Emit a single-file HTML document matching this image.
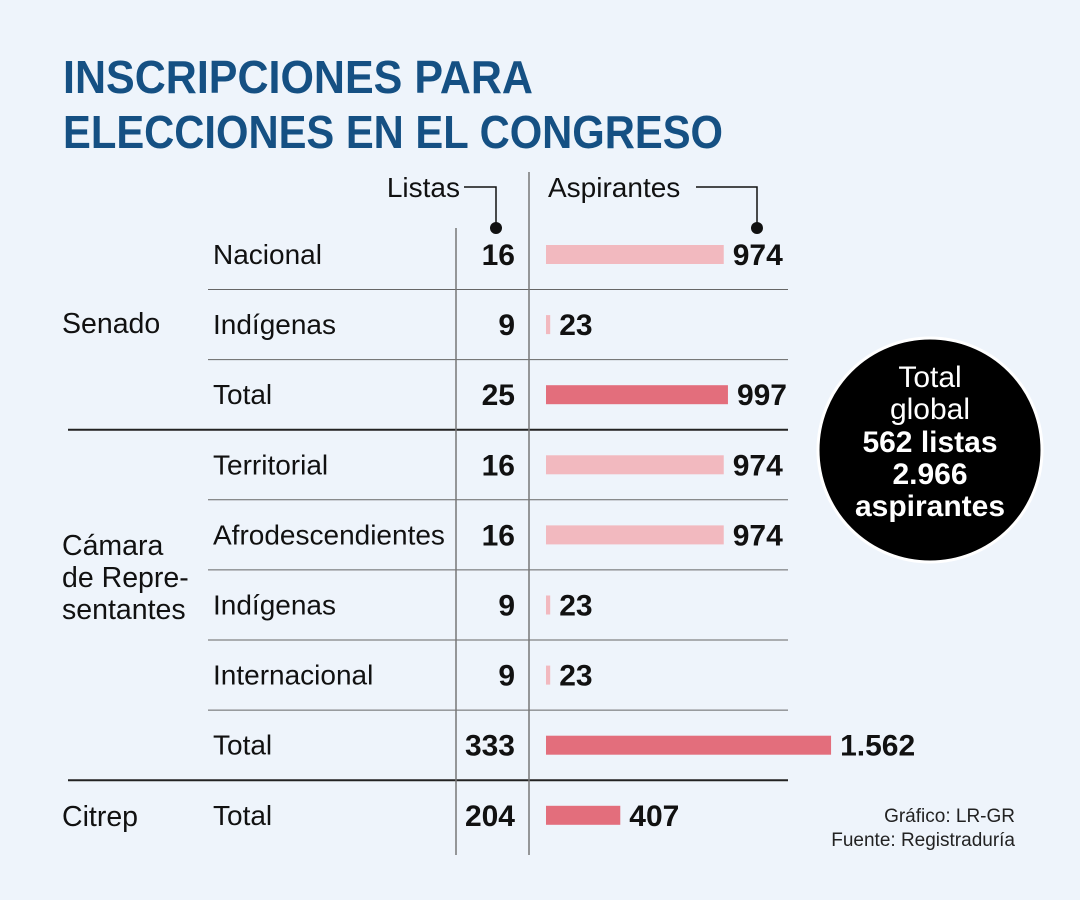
<!DOCTYPE html>
<html><head><meta charset="utf-8"><style>
body{margin:0;background:#eef4fb;}
svg{display:block;font-family:"Liberation Sans",sans-serif;}
</style></head><body>
<svg id="chart" width="1080" height="900" viewBox="0 0 1080 900">
<rect width="1080" height="900" fill="#eef4fb"/>
<g fill="#155083" font-weight="bold" font-size="46">
<text x="63" y="93" textLength="470" lengthAdjust="spacingAndGlyphs">INSCRIPCIONES PARA</text>
<text x="63" y="148" textLength="660" lengthAdjust="spacingAndGlyphs">ELECCIONES EN EL CONGRESO</text>
</g>
<g font-size="28" fill="#111">
<text x="460" y="197" text-anchor="end">Listas</text>
<text x="548" y="197">Aspirantes</text>
<polyline points="464,187 496,187 496,228" fill="none" stroke="#111" stroke-width="1.5"/>
<circle cx="496" cy="228" r="6" fill="#111"/>
<polyline points="696,187 757,187 757,228" fill="none" stroke="#111" stroke-width="1.5"/>
<circle cx="757" cy="228" r="6" fill="#111"/>
</g>
<g id="grid"></g>
<g id="rows"></g>
<g font-size="28.5" fill="#111">
<text x="62" y="333">Senado</text>
<text x="62" y="555">Cámara</text>
<text x="62" y="587">de Repre-</text>
<text x="62" y="619">sentantes</text>
<text x="62" y="826">Citrep</text>
</g>
<g>
<circle cx="930" cy="450" r="112" fill="#000" stroke="#fff" stroke-width="3"/>
<g fill="#fff" text-anchor="middle" font-size="30">
<text x="930" y="387">Total</text>
<text x="930" y="419">global</text>
<text x="930" y="452" font-weight="bold">562 listas</text>
<text x="930" y="484" font-weight="bold">2.966</text>
<text x="930" y="516" font-weight="bold">aspirantes</text>
</g>
</g>
<g font-size="19" fill="#222" text-anchor="end">
<text x="1015" y="822">Gráfico: LR-GR</text>
<text x="1015" y="846">Fuente: Registraduría</text>
</g>
</svg>
<script>
const categories=["Nacional","Indígenas","Total","Territorial","Afrodescendientes","Indígenas","Internacional","Total","Total"];
const listas=[16,9,25,16,16,9,9,333,204];
const aspirantes=[974,23,997,974,974,23,23,1562,407];
const aspLabels=["974","23","997","974","974","23","23","1.562","407"];
const isTotal=[false,false,true,false,false,false,false,true,true];
const NS="http://www.w3.org/2000/svg";
const rowsG=document.getElementById('rows');
const gridG=document.getElementById('grid');
const rowY=i=>254+i*70.1;
const xScale=v=>v*0.1825;
const barX=546;
function mk(tag,attrs,parent){const e=document.createElementNS(NS,tag);for(const k in attrs)e.setAttribute(k,attrs[k]);parent.appendChild(e);return e;}
categories.forEach((c,i)=>{
  const y=rowY(i);
  const t=mk('text',{x:213,y:y+10,'font-size':28,fill:'#111'},rowsG);t.textContent=c;
  
  
  const n=mk('text',{x:515,y:y+11,'font-size':30,'font-weight':'bold','text-anchor':'end',fill:'#111'},rowsG);n.textContent=listas[i];
  
  
  const w=Math.max(xScale(aspirantes[i]),4);
  const b=mk('rect',{x:barX,y:y-9,width:w,height:19,fill:isTotal[i]?'#e36e7c':'#f2b9bf'},rowsG);
  
  
  const v=mk('text',{x:barX+w+9,y:y+11,'font-size':30,'font-weight':'bold',fill:'#111'},rowsG);v.textContent=aspLabels[i];
  
  
  if(i<categories.length-1){
    const sy=y+35.5;
    const thick=(i===2||i===7);
    const l=mk('line',{x1:thick?68:208,x2:788,y1:sy,y2:sy,stroke:thick?'#222':'#666','stroke-width':thick?2:1},gridG);
    
    
  }
});
const v1=mk('line',{x1:456,x2:456,y1:228,y2:855,stroke:'#777','stroke-width':1.5},gridG);


const v2=mk('line',{x1:529,x2:529,y1:172,y2:855,stroke:'#777','stroke-width':1.5},gridG);


</script>
</body></html>
